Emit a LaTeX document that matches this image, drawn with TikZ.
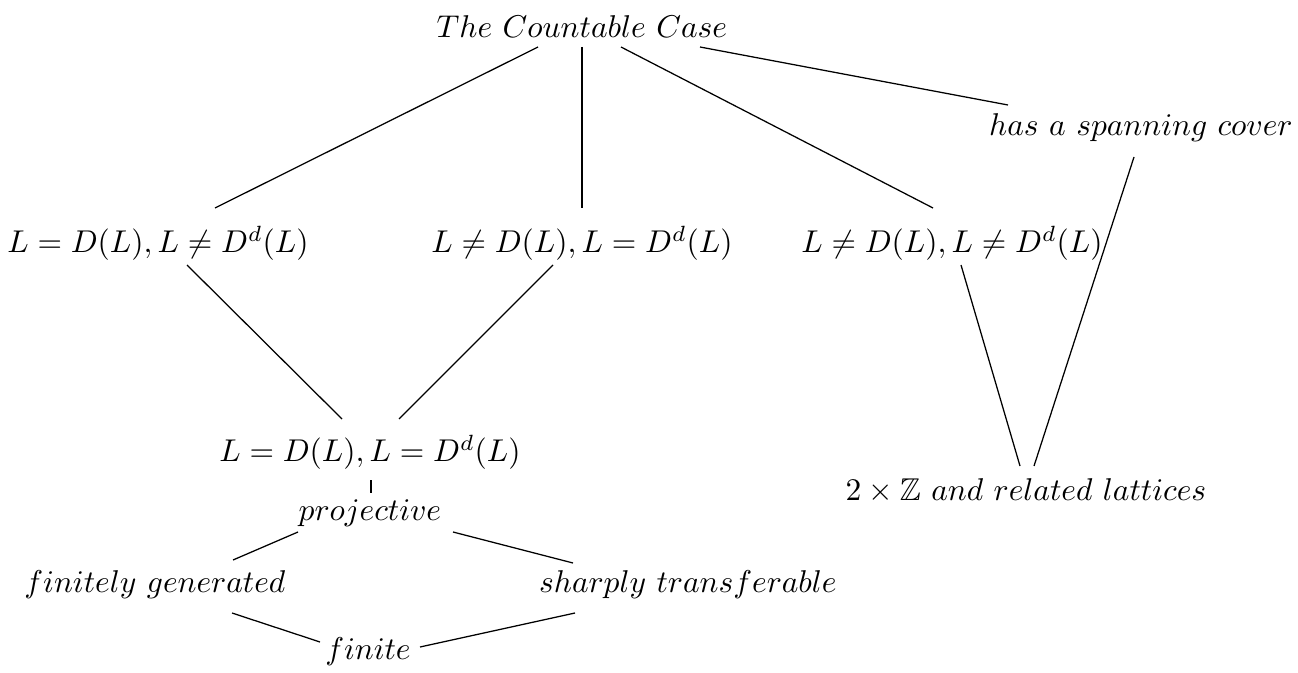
\documentclass[tikz,border=0pt]{standalone}
\usepackage{amssymb}
\usetikzlibrary{calc}

\begin{document}
\begin{tikzpicture}[
  x=0.3175pt, y=-0.3175pt,
  case/.style={inner sep=0pt},
  link/.style={line width=0.4pt},
]
  \useasboundingbox (0,0) rectangle (1298,673);

  \node[case] (cc) at (582,27) {$The\ Countable\ Case$};
  \node[case] (span) at (1141,128) {$has\ a\ spanning\ cover$};
  \node[case] (a) at (158,243) {$L=D(L), L\neq D^d(L)$};
  \node[case] (b) at (582,243) {$L\neq D(L), L=D^d(L)$};
  \node[case] (c) at (952,243) {$L\neq D(L), L\neq D^d(L)$};
  \node[case] (d) at (370,452) {$L=D(L), L=D^d(L)$};
  \node[case] (proj) at (370,513) {$projective$};
  \node[case] (fg) at (155,585) {$finitely\ generated$};
  \node[case] (st) at (688,585) {$sharply\ transferable$};
  \node[case] (fin) at (368,652) {$finite$};
  \node[case] (z) at (1026,491) {$2\times\mathbb{Z}\ and\ related\ lattices$};

  % from the top
  \draw[link] ($(cc)+(-44,20)$) -- ($(a)+(57,-35)$);
  \draw[link] ($(cc)+(0,20)$) -- ($(b)+(0,-35)$);
  \draw[link] ($(cc)+(39,20)$) -- ($(c)+(-19,-35)$);
  \draw[link] ($(cc)+(118,20)$) -- ($(span)+(-133,-23)$);

  % right branch
  \draw[link] ($(span)+(-7,29)$) -- ($(z)+(8,-25)$);
  \draw[link] ($(c)+(9,22)$) -- ($(z)+(-6,-25)$);

  % left branch
  \draw[link] ($(a)+(29,22)$) -- ($(d)+(-28,-33)$);
  \draw[link] ($(b)+(-29,22)$) -- ($(d)+(29,-33)$);
  \draw[link] ($(d)+(1,28)$) -- ($(proj)+(1,-20)$);
  \draw[link] ($(proj)+(-72,19)$) -- ($(fg)+(78,-25)$);
  \draw[link] ($(proj)+(83,19)$) -- ($(st)+(-115,-22)$);
  \draw[link] ($(fg)+(77,28)$) -- ($(fin)+(-48,-10)$);
  \draw[link] ($(st)+(-113,28)$) -- ($(fin)+(52,-5)$);
\end{tikzpicture}
\end{document}
